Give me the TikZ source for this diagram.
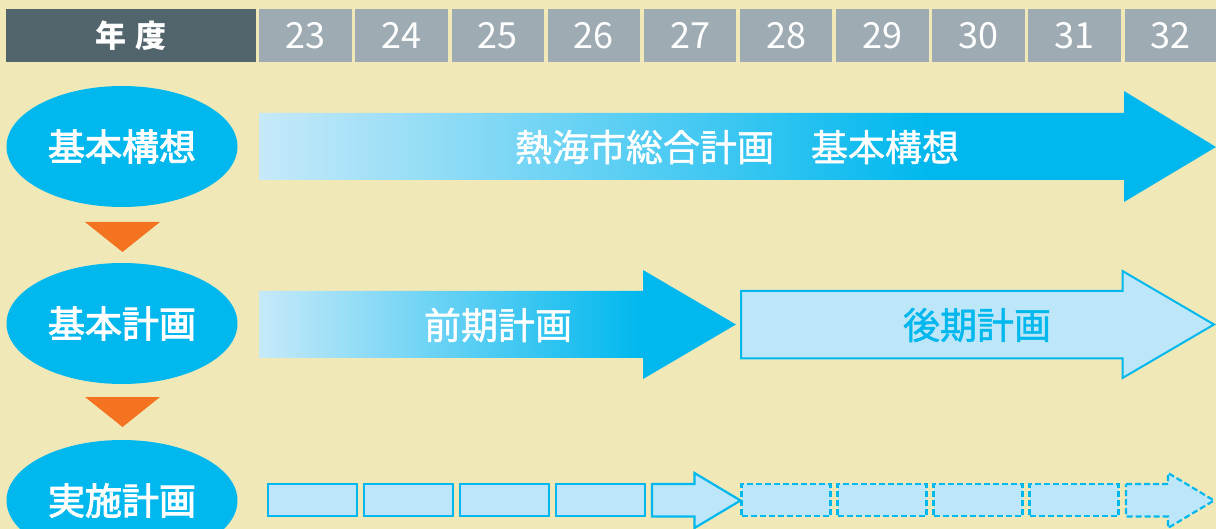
\documentclass[tikz,border=0pt]{standalone}
\usepackage{fontspec}
\setmainfont{Noto Sans CJK JP}
\newfontfamily\medfont{Noto Sans CJK JP}[FakeBold=2.5]
\newfontfamily\semifont{Noto Sans CJK JP}[FakeBold=1.2]
\usetikzlibrary{shapes.geometric}
\definecolor{bgc}{HTML}{F1E8B8}
\definecolor{darkcell}{HTML}{52646C}
\definecolor{yearc}{HTML}{9EABB3}
\definecolor{cyanc}{HTML}{00B8EE}
\definecolor{lightc}{HTML}{BEE6F9}
\definecolor{gradstart}{HTML}{C6E9F9}
\definecolor{orangec}{HTML}{F47321}
\pgfdeclarehorizontalshading{gradlong}{100bp}{color(0bp)=(gradstart); color(25bp)=(gradstart); color(60bp)=(cyanc); color(100bp)=(cyanc)}
\pgfdeclarehorizontalshading{gradshort}{100bp}{color(0bp)=(gradstart); color(25bp)=(gradstart); color(65bp)=(cyanc); color(100bp)=(cyanc)}
\tikzset{
  bigtext/.style={font=\semifont\fontsize{37}{40}\selectfont},
  headcell/.style={fill=darkcell, text=white, minimum width=250pt, minimum height=53pt, inner sep=0pt, font=\fontsize{31}{33}\selectfont\bfseries},
  yearcell/.style={fill=yearc, text=white, minimum width=92.5pt, minimum height=53pt, inner sep=0pt, font=\fontsize{36}{38}\selectfont},
  stageellipse/.style={ellipse, fill=cyanc, text=white, minimum width=231pt, minimum height=121pt, inner sep=0pt, font=\medfont\fontsize{37}{40}\selectfont},
  downtri/.style={fill=orangec},
  lightarrow/.style={fill=lightc, draw=cyanc, line width=2pt},
  planbox/.style={fill=lightc, draw=cyanc, line width=2.2pt, minimum width=89pt, minimum height=31.5pt, inner sep=0pt},
  dashbox/.style={planbox, dash pattern=on 6pt off 3pt},
  dasharrow/.style={lightarrow, line width=2.2pt, dash pattern=on 6pt off 3pt}
}
\begin{document}
\begin{tikzpicture}[x=1pt,y=-1pt]
\useasboundingbox (0,0) rectangle (1216,529);
\clip (0,0) rectangle (1216,529);
\fill[bgc] (0,0) rectangle (1216,529);

% header
\node[headcell] (hd) at (131,35.5) {年\hspace{9pt}度};
\foreach \y [count=\i from 0] in {23,24,25,26,27,28,29,30,31} {
  \node[yearcell] (y\y) at ({305.55+96.13*\i},35.5) {\y};
}
\node[yearcell, minimum width=91.5pt] (y32) at (1170.75,35.5) {32};

% stage ellipses
\node[stageellipse] (kousou) at (122,146.5) {基本構想};
\node[stageellipse] (keikaku) at (122,323.5) {基本計画};
\node[stageellipse] (jisshi) at (122,500.5) {実施計画};

% orange triangles
\fill[downtri] (85,222) -- (160,222) -- (122.5,252) -- cycle;
\fill[downtri] (85,397) -- (160,397) -- (122.5,427) -- cycle;

% row 1 arrow
\path[shading=gradlong] (259,113) -- (1124,113) -- (1124,91) -- (1216,147) -- (1124,202) -- (1124,180) -- (259,180) -- cycle;
\node[bigtext, text=white] (sogo) at (737,147) {熱海市総合計画\hspace{1em}基本構想};

% row 2 arrows
\path[shading=gradshort] (259,291) -- (643,291) -- (643,270) -- (736,324.5) -- (643,379) -- (643,358) -- (259,358) -- cycle;
\node[bigtext, text=white] (zenki) at (498,325) {前期計画};
\draw[lightarrow] (741,291) -- (1122.5,291) -- (1122.5,271) -- (1214,324.5) -- (1122.5,378) -- (1122.5,358.5) -- (741,358.5) -- cycle;
\node[bigtext, text=cyanc] (kouki) at (977,325) {後期計画};

% row 3 boxes
\foreach \i in {0,1,2,3} {
  \node[planbox] (p\i) at ({312.2+96*\i},500) {};
}
\draw[lightarrow, line width=2.2pt] (652,484) -- (694.5,484) -- (694.5,473) -- (740.5,500.5) -- (694.5,528) -- (694.5,516.5) -- (652,516.5) -- cycle;
\foreach \i in {0,1,2,3} {
  \node[dashbox] (d\i) at ({786+96*\i},500) {};
}
\draw[dasharrow] (1126,484) -- (1168,484) -- (1168,473) -- (1214,500.5) -- (1168,528) -- (1168,516.5) -- (1126,516.5) -- cycle;
\end{tikzpicture}
\end{document}
